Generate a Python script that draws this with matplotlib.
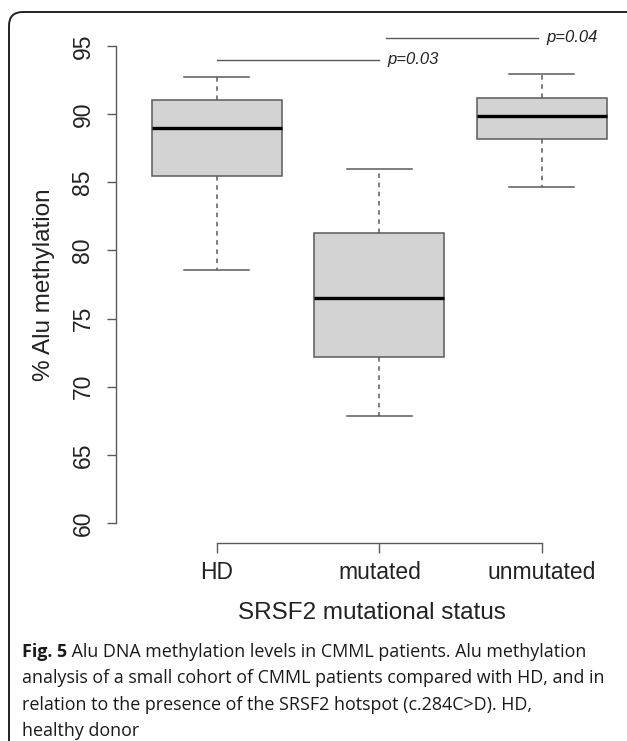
import matplotlib.pyplot as plt
from matplotlib.patches import FancyBboxPatch

# box statistics (% Alu methylation)
groups = ['HD', 'mutated', 'unmutated']
whisker_low = [78.55, 67.85, 84.65]
q1 = [85.45, 72.2, 88.2]
median = [89.0, 76.5, 89.85]
q3 = [91.05, 81.3, 91.15]
whisker_high = [92.7, 86.0, 92.95]

# significance lines
p_labels = ['p=0.03', 'p=0.04']
p_x0 = [1, 2.04]
p_x1 = [2, 2.975]
p_y = [94.0, 95.6]

y_ticks = [60, 65, 70, 75, 80, 85, 90, 95]

caption_bold = 'Fig. 5'
caption_lines = [
    ' Alu DNA methylation levels in CMML patients. Alu methylation',
    'analysis of a small cohort of CMML patients compared with HD, and in',
    'relation to the presence of the SRSF2 hotspot (c.284C>D). HD,',
    'healthy donor',
]

W, H = 627, 741
grey = '#5a5a5a'
plt.rcParams['font.family'] = ['Liberation Sans', 'DejaVu Sans']

fig = plt.figure(figsize=(W / 100, H / 100), dpi=100)
ax = fig.add_axes([116 / W, (H - 543) / H, (W - 116) / W, (543 - 20) / H])

stats = []
for i, g in enumerate(groups):
    stats.append({'label': g, 'whislo': whisker_low[i], 'q1': q1[i], 'med': median[i],
                  'q3': q3[i], 'whishi': whisker_high[i], 'fliers': []})

ax.bxp(stats, positions=[1, 2, 3], widths=0.8, capwidths=0.4, patch_artist=True,
       showfliers=False,
       boxprops=dict(facecolor='#d3d3d3', edgecolor=grey, linewidth=1.1),
       medianprops=dict(color='black', linewidth=2.4, solid_capstyle='butt'),
       whiskerprops=dict(color=grey, linewidth=1.1, linestyle=(0, (3, 3))),
       capprops=dict(color=grey, linewidth=1.1))

for x0, x1, y, lab in zip(p_x0, p_x1, p_y, p_labels):
    ax.plot([x0, x1], [y, y], color=grey, linewidth=1.0)
    ax.annotate(lab, xy=(x1, y), xytext=(6, 0), textcoords='offset points',
                ha='left', va='center', fontsize=12, style='italic', color='#222222')

ax.set_xlim(0.38, 3.523)
ax.set_ylim(58.53, 96.91)

for s in ['top', 'right']:
    ax.spines[s].set_visible(False)
ax.spines['left'].set_bounds(60, 95)
ax.spines['bottom'].set_bounds(1, 3)
for s in ['left', 'bottom']:
    ax.spines[s].set_color(grey)
    ax.spines[s].set_linewidth(1.0)

ax.set_yticks(y_ticks)
ax.set_yticklabels([str(v) for v in y_ticks], rotation=90, va='center')
ax.set_xticks([1, 2, 3])
ax.set_xticklabels(groups)
ax.tick_params(axis='y', length=6.5, width=1.0, color=grey, labelsize=16.5, pad=9,
               labelcolor='#222222')
ax.tick_params(axis='x', length=7.2, width=1.0, color=grey, labelsize=16.5, pad=6,
               labelcolor='#222222')

ax.set_ylabel('% Alu methylation', fontsize=17.5, color='#222222')
ax.yaxis.label.set_va('center')
ax.yaxis.set_label_coords((44 - 116) / 511, 0.493)
ax.set_xlabel('SRSF2 mutational status', fontsize=17.5, color='#222222')
ax.xaxis.label.set_va('center')
ax.xaxis.set_label_coords((372 - 116) / 511, (543 - 613) / 523)

# rounded frame around the figure
frame = FancyBboxPatch((9 / W, -0.2), 1.2, (H - 12) / H + 0.2,
                       boxstyle='round,pad=0,rounding_size=0.022', mutation_aspect=W / H,
                       transform=fig.transFigure, fill=False, edgecolor='#222222',
                       linewidth=1.4, clip_on=False)
fig.patches.append(frame)

# caption
cap_font = ['Open Sans', 'DejaVu Sans']
cap_size = 12.9
baselines = [657, 683, 710, 736]
r = fig.canvas.get_renderer()
t = fig.text(22 / W, (H - baselines[0]) / H, caption_bold, fontsize=cap_size,
             family=cap_font, fontweight='bold', va='baseline', color='#1a1a1a')
bb = t.get_window_extent(renderer=r)
fig.text(bb.x1 / W, (H - baselines[0]) / H, caption_lines[0], fontsize=cap_size,
         family=cap_font, va='baseline', color='#1a1a1a')
for line, b in zip(caption_lines[1:], baselines[1:]):
    fig.text(22 / W, (H - b) / H, line, fontsize=cap_size, family=cap_font,
             va='baseline', color='#1a1a1a')

fig.savefig('out.png', dpi=100)
